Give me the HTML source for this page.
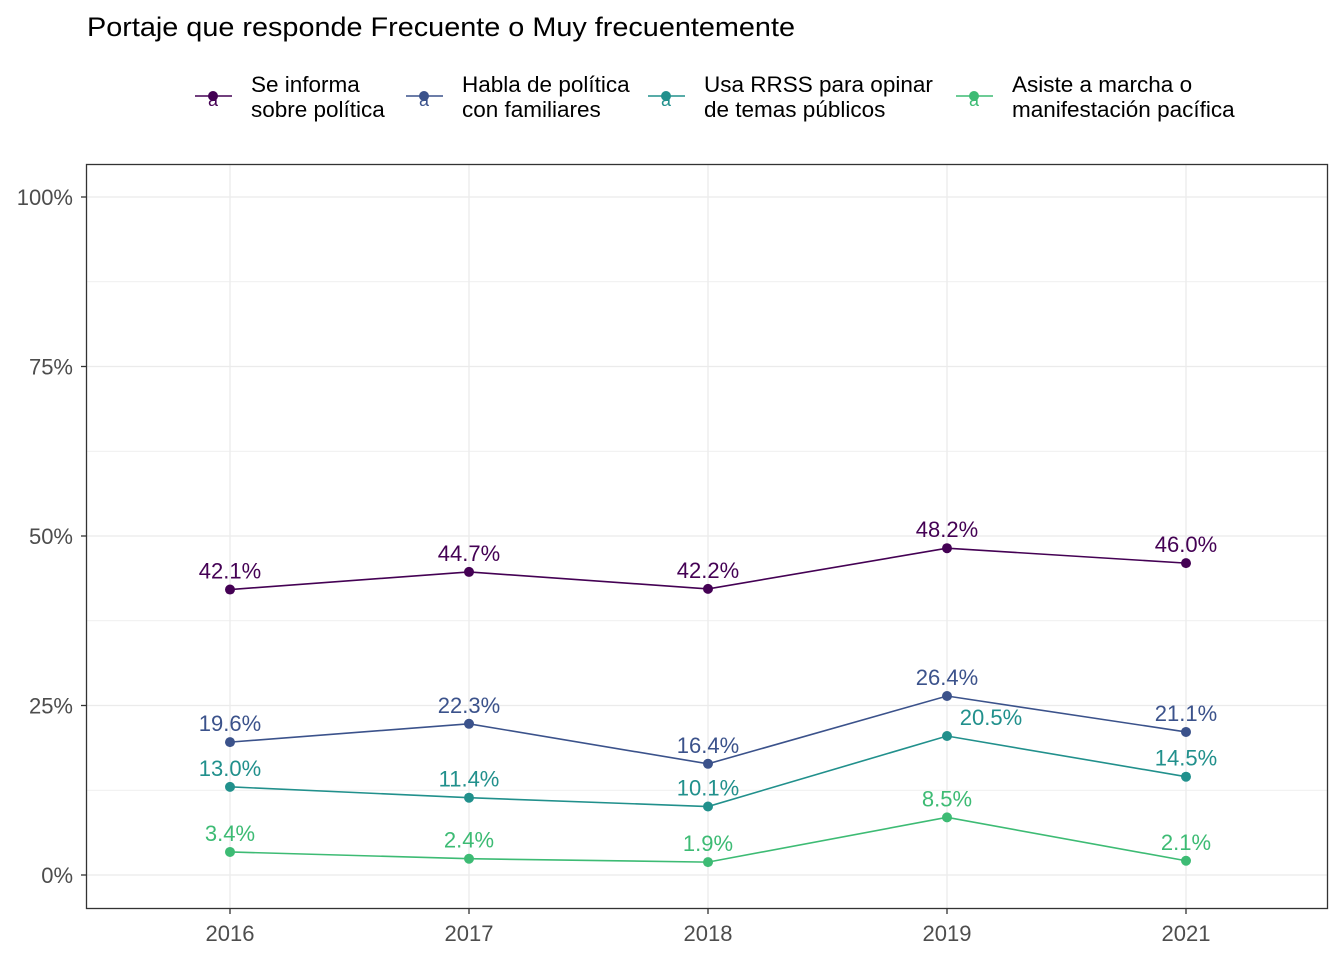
<!DOCTYPE html>
<html><head><meta charset="utf-8"><style>
body{margin:0;background:#fff;font-family:"Liberation Sans",Arial,sans-serif}
</style></head><body>
<svg id="c" width="1344" height="960" xmlns="http://www.w3.org/2000/svg">
<text x="87" y="36" font-size="27" textLength="708" lengthAdjust="spacingAndGlyphs" fill="#000">Portaje que responde Frecuente o Muy frecuentemente</text>
<g id="legend"></g>
<g id="grid"></g>
<g id="marks"></g>
<rect x="86.5" y="164.5" width="1241" height="744" fill="none" stroke="#333" stroke-width="1.3"/>
<g id="axes"></g>
</svg>
<script>
const years=["2016","2017","2018","2019","2021"];
const seriesNames=[["Se informa","sobre política"],["Habla de política","con familiares"],["Usa RRSS para opinar","de temas públicos"],["Asiste a marcha o","manifestación pacífica"]];
const colors=["#440154","#3B528B","#21908C","#3DBB74"];
const s1=[42.1,44.7,42.2,48.2,46.0];
const s2=[19.6,22.3,16.4,26.4,21.1];
const s3=[13.0,11.4,10.1,20.5,14.5];
const s4=[3.4,2.4,1.9,8.5,2.1];
const series=[s1,s2,s3,s4];
const yTicks=[0,25,50,75,100];
const yTickLabels=["0%","25%","50%","75%","100%"];
const NS="http://www.w3.org/2000/svg";
const x=i=>230+i*239;
const y=v=>875-v*6.78;
function mk(tag,attrs,parent){const e=document.createElementNS(NS,tag);for(const k in attrs)e.setAttribute(k,attrs[k]);parent.appendChild(e);return e;}
const grid=document.getElementById('grid'),marks=document.getElementById('marks'),axes=document.getElementById('axes'),legend=document.getElementById('legend');
for(let t=0;t<=100;t+=12.5){const l=mk('line',{x1:87,x2:1327,y1:y(t),y2:y(t),stroke:'#ebebeb','stroke-width':t%25===0?1.3:0.7},grid);
}
years.forEach((yr,i)=>{const l=mk('line',{x1:x(i),x2:x(i),y1:165,y2:908,stroke:'#ebebeb','stroke-width':1.3},grid);

mk('line',{x1:x(i),x2:x(i),y1:909,y2:914,stroke:'#333','stroke-width':1.3},axes);
const t=mk('text',{x:x(i),y:941,'text-anchor':'middle','font-size':22,fill:'#4d4d4d'},axes);t.textContent=yr;
});
yTicks.forEach((v,i)=>{mk('line',{x1:81,x2:86,y1:y(v),y2:y(v),stroke:'#333','stroke-width':1.3},axes);
const t=mk('text',{x:73,y:y(v)+8,'text-anchor':'end','font-size':22,fill:'#4d4d4d'},axes);t.textContent=yTickLabels[i];
});
series.forEach((s,k)=>{const g=mk('g',{},marks);
const p=mk('polyline',{points:s.map((v,i)=>x(i)+','+y(v)).join(' '),fill:'none',stroke:colors[k],'stroke-width':1.6},g);

s.forEach((v,i)=>{const c=mk('circle',{cx:x(i),cy:y(v),r:5,fill:colors[k]},g);

const dx=(k===2&&i===3)?44:0;
const t=mk('text',{x:x(i)+dx,y:y(v)-11,'text-anchor':'middle','font-size':22,fill:colors[k]},g);t.textContent=v.toFixed(1)+'%';
});});
const lx=[195,406,648,956];
seriesNames.forEach((n,k)=>{const g=mk('g',{},legend);
mk('line',{x1:lx[k],x2:lx[k]+37,y1:96,y2:96,stroke:colors[k],'stroke-width':1.6},g);
mk('circle',{cx:lx[k]+18,cy:96,r:5,fill:colors[k]},g);
const a=mk('text',{x:lx[k]+18,y:106,'text-anchor':'middle','font-size':18,fill:colors[k]},g);a.textContent='a';
n.forEach((line,j)=>{const t=mk('text',{x:lx[k]+56,y:92+j*25,'font-size':22.5,fill:'#000'},g);t.textContent=line;});});
</script>
</body></html>
